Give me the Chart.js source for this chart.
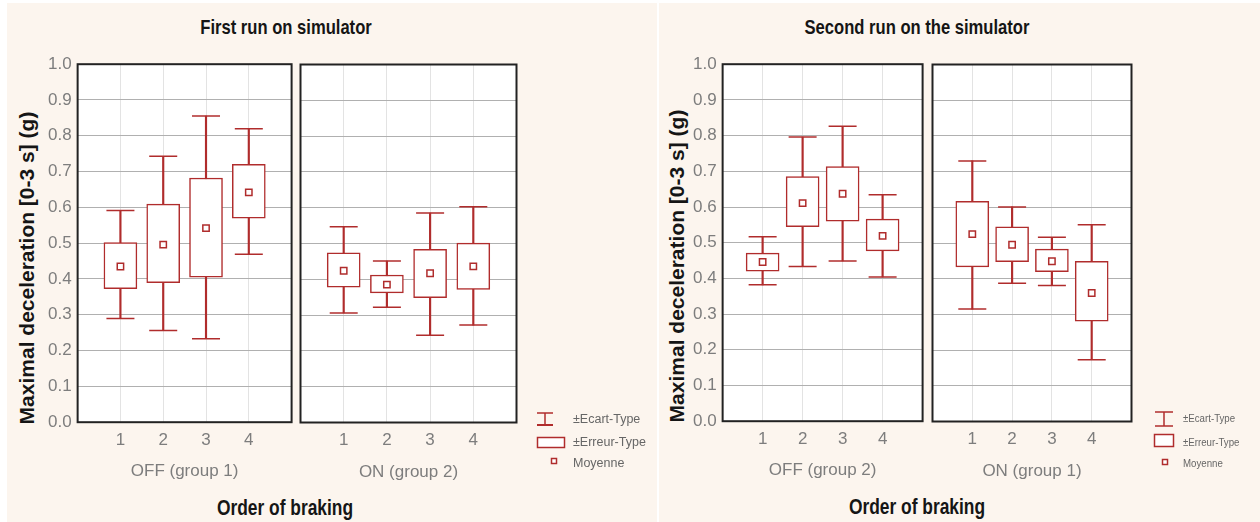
<!DOCTYPE html>
<html>
<head>
<meta charset="utf-8">
<script src="https://cdn.jsdelivr.net/npm/chart.js@4.4.0/dist/chart.umd.min.js"></script>
<style>
body { margin: 0; width: 1260px; height: 522px; position: relative; overflow: hidden; background: #fff; font-family: "Liberation Sans", Arial, sans-serif; }
.panel { position: absolute; top: 3px; height: 519px; background: #fcf5ee; overflow: hidden; }
.wrap { position: absolute; }
.wrap canvas { display: block; }
.t { position: absolute; white-space: nowrap; transform: translate(-50%, -50%) scaleX(0.79); font-weight: bold; color: #151515; }
.ytitle { position: absolute; white-space: nowrap; transform: translate(-50%, -50%) rotate(-90deg); font-weight: bold; font-size: 21px; color: #151515; }
.lg { position: absolute; white-space: nowrap; color: #666; transform: translateY(-50%); transform-origin: left center; }
svg { position: absolute; left: 0; top: 0; }
</style>
</head>
<body>
<div class="panel" style="left:7px;width:650px"></div>
<div class="panel" style="left:659px;width:601px"></div>

<div class="t" style="left:286px;top:27px;font-size:21px">First run on simulator</div>
<div class="t" style="left:917px;top:27px;font-size:21px">Second run on the simulator</div>
<div class="ytitle" style="left:27px;top:268px">Maximal deceleration [0-3 s] (g)</div>
<div class="ytitle" style="left:677px;top:266px">Maximal deceleration [0-3 s] (g)</div>
<div class="t" style="left:285px;top:508px;font-size:22px">Order of braking</div>
<div class="t" style="left:917px;top:507px;font-size:22px">Order of braking</div>

<div class="wrap" id="w1"><canvas id="c1" width="300" height="480"></canvas></div>
<div class="wrap" id="w2"><canvas id="c2" width="300" height="480"></canvas></div>
<div class="wrap" id="w3"><canvas id="c3" width="300" height="480"></canvas></div>
<div class="wrap" id="w4"><canvas id="c4" width="300" height="480"></canvas></div>

<svg width="1260" height="522">
  <g stroke="#b02c2c" stroke-width="1.5" fill="none">
    <line x1="537" y1="413" x2="553" y2="413"/><line x1="537" y1="425" x2="553" y2="425" stroke-width="2"/><line x1="545" y1="413" x2="545" y2="425"/>
    <rect x="537.5" y="437.5" width="27" height="10" fill="#fff"/>
    <rect x="551.5" y="458.5" width="5" height="5" fill="#fff"/>
    <line x1="1155" y1="412" x2="1173" y2="412"/><line x1="1155" y1="426" x2="1173" y2="426"/><line x1="1164" y1="412" x2="1164" y2="426"/>
    <rect x="1154.5" y="434.5" width="19" height="12" fill="#fff"/>
    <rect x="1162.5" y="459.5" width="5" height="5" fill="#fff"/>
  </g>
</svg>
<div class="lg" style="left:573px;top:419px;font-size:12.5px">±Ecart-Type</div>
<div class="lg" style="left:573px;top:442px;font-size:12.5px">±Erreur-Type</div>
<div class="lg" style="left:573px;top:463px;font-size:12.5px">Moyenne</div>
<div class="lg" style="left:1183px;top:418px;font-size:11px;transform:translateY(-50%) scaleX(0.88)">±Ecart-Type</div>
<div class="lg" style="left:1183px;top:442px;font-size:11px;transform:translateY(-50%) scaleX(0.88)">±Erreur-Type</div>
<div class="lg" style="left:1183px;top:463px;font-size:11px;transform:translateY(-50%) scaleX(0.88)">Moyenne</div>

<script>
const orders = [1, 2, 3, 4];
const groupLabels = ['OFF (group 1)', 'ON (group 2)', 'OFF (group 2)', 'ON (group 1)'];

// first run on simulator, OFF (group 1)
const run1OffMean   = [0.435, 0.496, 0.542, 0.642];
const run1OffSeLow  = [0.373, 0.390, 0.405, 0.570];
const run1OffSeHigh = [0.502, 0.609, 0.682, 0.720];
const run1OffSdLow  = [0.290, 0.256, 0.233, 0.469];
const run1OffSdHigh = [0.591, 0.743, 0.855, 0.820];

// first run on simulator, ON (group 2)
const run1OnMean   = [0.424, 0.385, 0.417, 0.436];
const run1OnSeLow  = [0.378, 0.362, 0.349, 0.372];
const run1OnSeHigh = [0.474, 0.412, 0.484, 0.501];
const run1OnSdLow  = [0.306, 0.322, 0.244, 0.272];
const run1OnSdHigh = [0.547, 0.451, 0.585, 0.603];

// second run, OFF (group 2)
const run2OffMean   = [0.446, 0.611, 0.637, 0.519];
const run2OffSeLow  = [0.420, 0.545, 0.560, 0.477];
const run2OffSeHigh = [0.471, 0.685, 0.713, 0.566];
const run2OffSdLow  = [0.382, 0.433, 0.449, 0.404];
const run2OffSdHigh = [0.517, 0.796, 0.826, 0.634];

// second run, ON (group 1)
const run2OnMean   = [0.525, 0.495, 0.449, 0.360];
const run2OnSeLow  = [0.433, 0.448, 0.420, 0.281];
const run2OnSeHigh = [0.617, 0.545, 0.483, 0.449];
const run2OnSdLow  = [0.315, 0.387, 0.381, 0.173];
const run2OnSdHigh = [0.730, 0.601, 0.516, 0.551];

const red = '#b02c2c';
const grey = '#7d7d7d';

// white plot area + black frame
const frame = {
    id: 'frame',
    beforeDraw(chart) {
        const { ctx, chartArea: a } = chart;
        ctx.save();
        ctx.fillStyle = '#fff';
        ctx.fillRect(a.left, a.top, a.right - a.left, a.bottom - a.top);
        ctx.restore();
    },
    beforeDatasetsDraw(chart) {
        const { ctx, chartArea: a } = chart;
        ctx.save();
        ctx.strokeStyle = '#222';
        ctx.lineWidth = 2;
        ctx.strokeRect(a.left, a.top, a.right - a.left, a.bottom - a.top);
        ctx.restore();
    }
};

function makeChart(id, label, showY, mean, seLow, seHigh, sdLow, sdHigh) {
    const config = {
        type: 'bar',
        data: {
            datasets: [{
                type: 'bar',
                data: orders.map((o, i) => ({ x: o, y: [sdLow[i], sdHigh[i]] })),
                backgroundColor: red,
                barThickness: 1.5,
                grouped: false,
                order: 4
            }, {
                type: 'bar',
                data: orders.map((o, i) => ({ x: o, y: [seLow[i], seHigh[i]] })),
                backgroundColor: '#fff',
                borderColor: red,
                borderWidth: 1.5,
                borderSkipped: false,
                barThickness: 33,
                grouped: false,
                order: 3
            }, {
                type: 'line',
                data: orders.map((o, i) => ({ x: o, y: sdHigh[i] }))
                    .concat(orders.map((o, i) => ({ x: o, y: sdLow[i] }))),
                showLine: false,
                pointStyle: 'line',
                pointRadius: 14,
                pointBorderColor: red,
                pointBorderWidth: 1.5,
                order: 2
            }, {
                type: 'line',
                data: orders.map((o, i) => ({ x: o, y: mean[i] })),
                showLine: false,
                pointStyle: 'rect',
                pointRadius: 4.5,
                pointBackgroundColor: '#fff',
                pointBorderColor: red,
                pointBorderWidth: 1.5,
                order: 1
            }]
        },
        options: {
            responsive: false,
            maintainAspectRatio: false,
            animation: false,
            events: [],
            layout: { padding: { top: 2, right: 2, left: 0, bottom: 0 } },
            plugins: { legend: { display: false }, tooltip: { enabled: false } },
            scales: {
                x: {
                    type: 'linear', min: 0, max: 5, offset: false,
                    ticks: {
                        stepSize: 1, autoSkip: false, maxRotation: 0, padding: 8,
                        color: grey, font: { size: 17 },
                        callback: v => (v >= 1 && v <= 4) ? String(v) : ''
                    },
                    grid: {
                        drawTicks: false, offset: false,
                        color: c => (c.tick && c.tick.value > 0 && c.tick.value < 5) ? '#e3e3e3' : 'rgba(0,0,0,0)'
                    },
                    border: { display: false },
                    title: { display: true, text: label, color: grey, font: { size: 17 }, padding: { top: 3, bottom: 0 } }
                },
                y: {
                    min: 0, max: 1,
                    ticks: {
                        display: showY, stepSize: 0.1, padding: 6,
                        color: grey, font: { size: 17 },
                        callback: v => v.toFixed(1)
                    },
                    grid: { drawTicks: false, color: '#b0b0b0' },
                    border: { display: false }
                }
            }
        },
        plugins: [frame]
    };
    return new Chart(document.getElementById(id), config);
}

// move the canvas so that its plot area sits on the wanted box
function place(chart, wrapId, l, t, r, b) {
    let a = chart.chartArea;
    chart.resize(chart.width + (r - l) - (a.right - a.left), chart.height + (b - t) - (a.bottom - a.top));
    a = chart.chartArea;
    const w = document.getElementById(wrapId);
    w.style.left = (l - a.left) + 'px';
    w.style.top = (t - a.top) + 'px';
}

const ch1 = makeChart('c1', groupLabels[0], true, run1OffMean, run1OffSeLow, run1OffSeHigh, run1OffSdLow, run1OffSdHigh);
const ch2 = makeChart('c2', groupLabels[1], false, run1OnMean, run1OnSeLow, run1OnSeHigh, run1OnSdLow, run1OnSdHigh);
const ch3 = makeChart('c3', groupLabels[2], true, run2OffMean, run2OffSeLow, run2OffSeHigh, run2OffSdLow, run2OffSdHigh);
const ch4 = makeChart('c4', groupLabels[3], false, run2OnMean, run2OnSeLow, run2OnSeHigh, run2OnSdLow, run2OnSdHigh);

place(ch1, 'w1', 78, 64, 292, 422);
place(ch2, 'w2', 300, 64, 516, 422);
place(ch3, 'w3', 723, 64, 923, 421);
place(ch4, 'w4', 932, 64, 1131, 421);
</script>
</body>
</html>
